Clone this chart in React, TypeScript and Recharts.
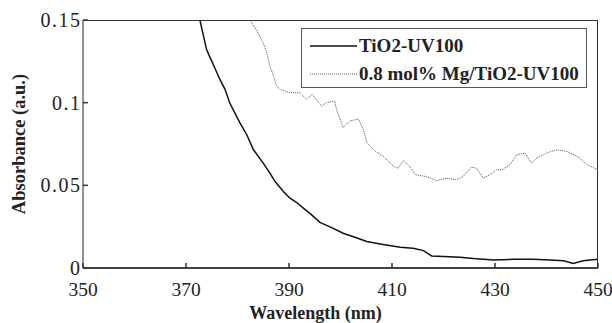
import { LineChart, Line, XAxis, YAxis } from "recharts";

const xTicks = [350, 370, 390, 410, 430, 450];
const yTicks = [0, 0.05, 0.1, 0.15];

// TiO2-UV100 (solid)
const tio2Wl = [
  372.7, 373.4, 374.0, 374.7, 375.6, 376.6, 377.6, 378.5, 379.5, 380.5, 381.8,
  383.1, 385.0, 386.3, 387.3, 388.9, 390.2, 391.5, 392.8, 394.4, 396.0, 398.6,
  400.5, 402.8, 405.1, 407.7, 411.6, 414.1, 416.1, 417.7, 420.0, 423.2, 425.8,
  429.7, 433.6, 437.4, 440.7, 443.3, 445.2, 447.1, 450.0,
];
const tio2Abs = [
  0.15, 0.1402, 0.1321, 0.1271, 0.121, 0.1139, 0.1079, 0.0998, 0.0937, 0.0876,
  0.0806, 0.0715, 0.0634, 0.0574, 0.0523, 0.0463, 0.0422, 0.0396, 0.0362,
  0.0321, 0.0276, 0.024, 0.021, 0.0186, 0.016, 0.0145, 0.0125, 0.0119, 0.0105,
  0.0073, 0.0069, 0.0065, 0.0057, 0.0048, 0.0053, 0.0053, 0.0048, 0.0044,
  0.0028, 0.0044, 0.0053,
];

// 0.8 mol% Mg/TiO2-UV100 (dotted)
const mgWl = [
  382.4, 383.7, 385.0, 385.7, 386.3, 387.0, 387.6, 388.3, 390.2, 392.1, 393.4,
  394.5, 396.3, 397.3, 398.9, 399.2, 400.5, 401.8, 403.5, 404.4, 405.1, 406.4,
  408.3, 410.3, 411.2, 412.2, 413.5, 414.5, 416.7, 418.7, 420.6, 422.5, 423.8,
  425.4, 426.4, 427.7, 429.0, 430.3, 431.3, 432.9, 434.2, 435.8, 437.1, 438.1,
  439.4, 440.8, 442.1, 444.0, 446.0, 447.9, 450.0,
];
const mgAbs = [
  0.15, 0.144, 0.136, 0.13, 0.122, 0.116, 0.11, 0.108, 0.106, 0.106, 0.102,
  0.105, 0.098, 0.1, 0.101, 0.096, 0.085, 0.089, 0.09, 0.084, 0.076, 0.0715,
  0.0675, 0.0614, 0.0604, 0.065, 0.0614, 0.0564, 0.0553, 0.0529, 0.0544,
  0.0533, 0.0553, 0.061, 0.0604, 0.0544, 0.0564, 0.0594, 0.0594, 0.0624,
  0.0685, 0.0695, 0.0634, 0.0665, 0.0685, 0.0705, 0.0715, 0.0705, 0.0675,
  0.0624, 0.0594,
];

const tio2Data = tio2Wl.map((x, i) => ({ x, y: tio2Abs[i] }));
const mgData = mgWl.map((x, i) => ({ x, y: mgAbs[i] }));

const FONT = '"Liberation Serif", "Times New Roman", Times, serif';
const X_MARGIN = 14;
const Y_MARGIN = 3;
const TICK_LEN = 5;

// tick labels with short inward tick marks
const XTick = ({ x, y, payload }: any) => (
  <g>
    <line x1={x} x2={x} y1={y - X_MARGIN} y2={y - X_MARGIN - TICK_LEN} stroke="#333" strokeWidth={1.5} />
    <text x={x} y={y} dy="0.71em" textAnchor="middle" fontFamily={FONT} fontSize={19.5} fill="#222">
      {payload.value}
    </text>
  </g>
);

const YTick = ({ x, y, payload }: any) => (
  <g>
    <line x1={x + Y_MARGIN} x2={x + Y_MARGIN + TICK_LEN} y1={y} y2={y} stroke="#333" strokeWidth={1.5} />
    <text
      x={x + 1.5}
      y={y}
      dy="0.35em"
      textAnchor="end"
      fontFamily={FONT}
      fontSize={20}
      letterSpacing={1.5}
      fill="#222"
    >
      {payload.value}
    </text>
  </g>
);

const YTitle = (props: any) => {
  const vb = props.viewBox || {};
  const cx = 18.5;
  const cy = (vb.y ?? 20) + (vb.height ?? 248) / 2;
  return (
    <text
      x={cx}
      y={cy}
      transform={`rotate(-90, ${cx}, ${cy})`}
      textAnchor="middle"
      dominantBaseline="central"
      fontFamily={FONT}
      fontSize={18.5}
      fontWeight="bold"
      fill="#222"
    >
      Absorbance (a.u.)
    </text>
  );
};

const LegendBox = () => (
  <div
    style={{
      position: "absolute",
      left: 301,
      top: 28,
      width: 284,
      height: 58,
      border: "1px solid #555",
      background: "#fff",
      fontFamily: FONT,
      fontWeight: "bold",
      fontSize: 19,
      color: "#222",
    }}
  >
    <svg width={60} height={58} style={{ position: "absolute", left: 0, top: 0 }}>
      <line x1={8} x2={55} y1={17} y2={17} stroke="#111" strokeWidth={1.5} />
      <line x1={8} x2={55} y1={45} y2={45} stroke="#555" strokeWidth={1} strokeDasharray="1 1" />
    </svg>
    <div style={{ position: "absolute", left: 57, top: 6, lineHeight: "22px", whiteSpace: "nowrap" }}>
      TiO2-UV100
    </div>
    <div style={{ position: "absolute", left: 57, top: 34, lineHeight: "22px", whiteSpace: "nowrap" }}>
      0.8 mol% Mg/TiO2-UV100
    </div>
  </div>
);

const App = () => {
  return (
    <div
      style={{
        position: "absolute",
        left: 0,
        top: 0,
        width: 612,
        height: 323,
        background: "#fff",
        fontFamily: FONT,
      }}
    >
      <LineChart width={612} height={323} margin={{ top: 20, right: 14, bottom: 0, left: 0 }}>
        <XAxis
          dataKey="x"
          type="number"
          domain={[350, 450]}
          ticks={xTicks}
          allowDataOverflow
          height={55}
          tickSize={0}
          tickMargin={X_MARGIN}
          tickLine={false}
          tick={<XTick />}
          axisLine={{ stroke: "#444", strokeWidth: 2 }}
          label={{
            value: "Wavelength (nm)",
            position: "insideBottom",
            offset: 4,
            dx: -25,
            fontFamily: FONT,
            fontSize: 18,
            fontWeight: "bold",
            fill: "#222",
          }}
        />
        <YAxis
          type="number"
          domain={[0, 0.15]}
          ticks={yTicks}
          allowDataOverflow
          width={83}
          tickSize={0}
          tickMargin={Y_MARGIN}
          tickLine={false}
          tick={<YTick />}
          axisLine={{ stroke: "#222" }}
          label={<YTitle />}
        />
        <Line
          data={tio2Data}
          dataKey="y"
          type="linear"
          stroke="#111"
          strokeWidth={1.5}
          dot={false}
          isAnimationActive={false}
        />
        <Line
          data={mgData}
          dataKey="y"
          type="linear"
          stroke="#555"
          strokeWidth={1}
          strokeDasharray="1 1"
          dot={false}
          isAnimationActive={false}
        />
      </LineChart>
      {/* top and right edges of the plot frame */}
      <div
        style={{
          position: "absolute",
          left: 83,
          top: 20,
          width: 515,
          height: 248,
          borderTop: "1.5px solid #333",
          borderRight: "1.5px solid #333",
          boxSizing: "border-box",
          pointerEvents: "none",
        }}
      />
      <LegendBox />
    </div>
  );
};

export default App;
